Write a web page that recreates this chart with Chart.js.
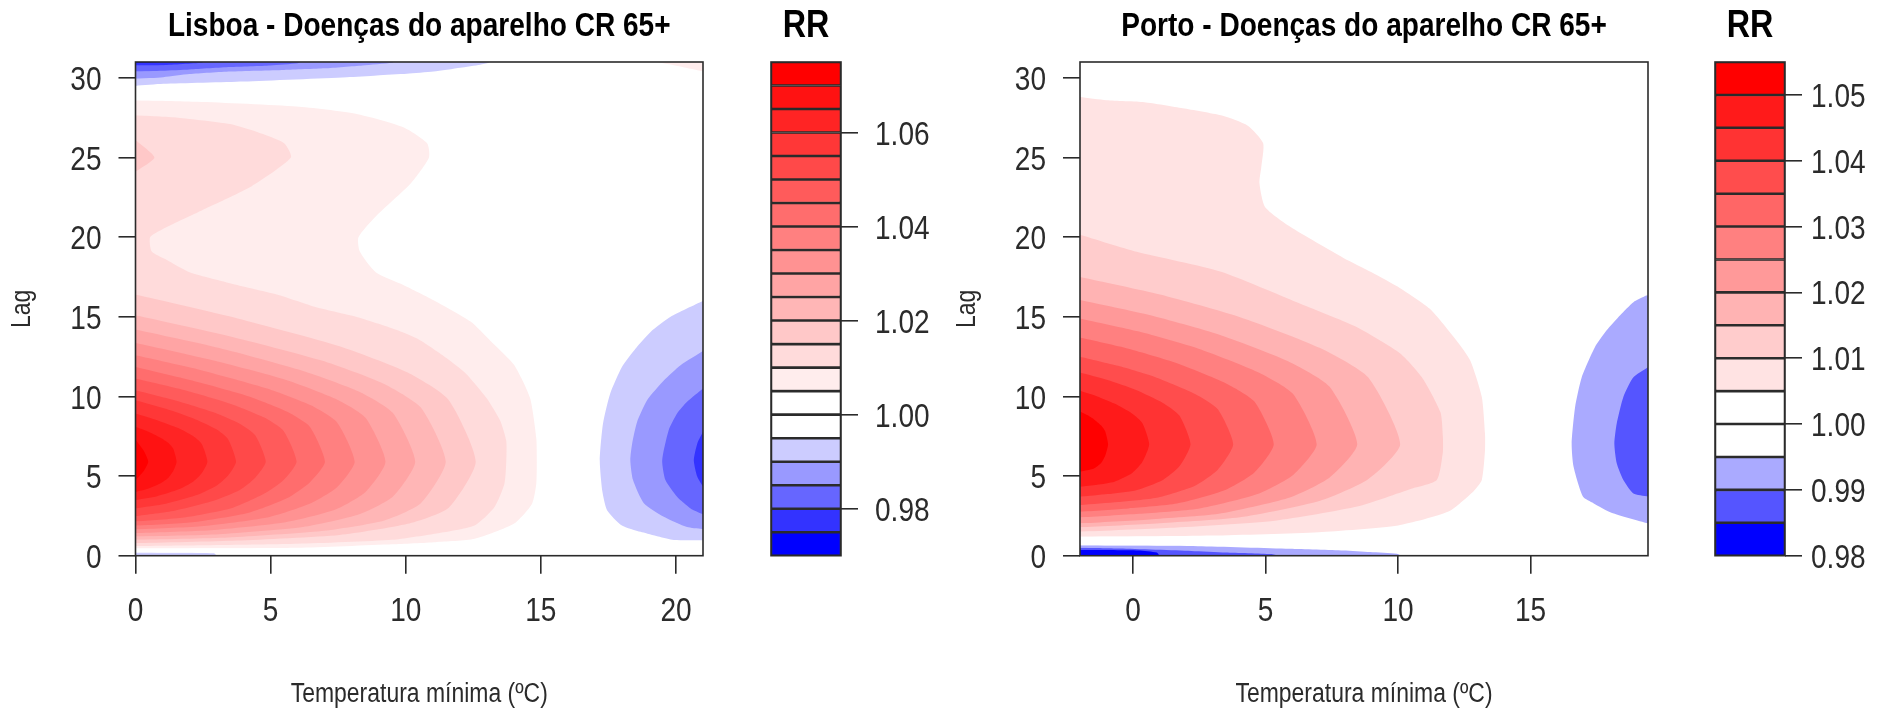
<!DOCTYPE html>
<html>
<head>
<meta charset="utf-8">
<title>RR</title>
<script src="https://cdn.jsdelivr.net/npm/chart.js@4"></script>
<style>
  html, body { margin: 0; padding: 0; background: #fff; }
  body { position: relative; width: 1878px; height: 708px; overflow: hidden; }
  canvas { position: absolute; top: 0; }
</style>
</head>
<body>
<canvas id="lisboaPlot" width="740" height="708" style="left:0"></canvas>
<canvas id="lisboaKey" width="190" height="708" style="left:761px"></canvas>
<canvas id="portoPlot" width="745" height="708" style="left:940px"></canvas>
<canvas id="portoKey" width="173" height="708" style="left:1705px"></canvas>
<script>
// tick labels
const lagTicks = [0, 5, 10, 15, 20, 25, 30];
const lisboaTempTicks = [0, 5, 10, 15, 20];
const portoTempTicks = [0, 5, 10, 15];
const lisboaKeyTicks = [0.98, 1.00, 1.02, 1.04, 1.06];
const portoKeyTicks = [0.98, 0.99, 1.00, 1.01, 1.02, 1.03, 1.04, 1.05];

// colour key cells, bottom to top
const lisboaLevels = [0.97, 0.975, 0.98, 0.985, 0.99, 0.995, 1.00, 1.005, 1.01, 1.015, 1.02, 1.025, 1.03, 1.035, 1.04, 1.045, 1.05, 1.055, 1.06, 1.065, 1.07, 1.075];
const lisboaColors = ['#0000FF', '#3333FF', '#6666FF', '#9999FF', '#CCCCFF', '#FFFFFF', '#FFFFFF', '#FFEDED', '#FFDBDB', '#FFC8C8', '#FFB6B6', '#FFA4A4', '#FF9292', '#FF8080', '#FF6D6D', '#FF5B5B', '#FF4949', '#FF3737', '#FF2424', '#FF1212', '#FF0000'];
const portoLevels = [0.98, 0.985, 0.99, 0.995, 1.00, 1.005, 1.01, 1.015, 1.02, 1.025, 1.03, 1.035, 1.04, 1.045, 1.05, 1.055];
const portoColors = ['#0000FF', '#5555FF', '#AAAAFF', '#FFFFFF', '#FFFFFF', '#FFE3E3', '#FFCCCC', '#FFB3B3', '#FF9999', '#FF8080', '#FF6666', '#FF4D4D', '#FF3333', '#FF1A1A', '#FF0000'];

// contour lines, each point is [lag, temperature]
const lis1005 = [[0.45,0],[0.5,6],[0.72,9.5],[0.85,11.1],[1.06,12.55],[2,14],[3.25,14.67],[4.5,14.83],[5.9,14.85],[7.4,14.83],[9.9,14.6],[12,14],[13.5,13.13],[14.7,12.4],[16,11.08],[17,9.91],[17.8,8.89],[19.1,8.3],[20,8.25],[21.3,8.89],[23.4,10.2],[25,10.86],[25.9,10.79],[26.9,9.91],[27.75,8.15],[28.2,5.96],[28.5,2.3],[28.6,0]];
const lis1010 = [[0.6,0],[0.75,6],[1.0,9.5],[1.38,11.08],[1.9,12.55],[3.04,13.28],[4.5,13.65],[5.9,13.72],[7.2,13.72],[8.46,13.5],[9.9,12.99],[11.4,12.25],[12.4,11.52],[13.56,10.5],[14.2,9.62],[15,8.16],[15.6,6.69],[16.4,5.23],[17,3.76],[17.8,2],[18.6,1.13],[19.1,0.6],[20,0.54],[20.5,1],[21.8,2.6],[23.2,4.3],[25,5.75],[25.9,5.5],[26.6,4.5],[27.1,3.5],[27.5,1.57],[27.65,0]];
const lis1015 = [[0.78,0],[0.95,3.78],[1.3,7.55],[2,10.07],[3,11.58],[5.9,12.59],[9.8,11.58],[11.5,10.07],[13.15,7.55],[14.9,3.78],[16.4,0]];
const lis1015b = [[24.1,0],[25,0.7],[26.1,0]];
const lis1020 = [[1,0],[1.15,3.44],[1.55,6.89],[2.2,9.18],[3.3,10.56],[5.9,11.48],[9.3,10.56],[10.8,9.18],[12.25,6.89],[13.8,3.44],[15.1,0]];
const lis1025 = [[1.2,0],[1.35,3.1],[1.8,6.2],[2.6,8.28],[3.7,9.52],[5.9,10.35],[8.97,9.52],[10.3,8.28],[11.6,6.2],[13.04,3.1],[14.2,0]];
const lis1030 = [[1.42,0],[1.6,2.78],[2.1,5.55],[2.9,7.4],[4,8.51],[5.9,9.25],[8.66,8.51],[9.85,7.4],[11.05,5.55],[12.3,2.78],[13.36,0]];
const lis1035 = [[1.65,0],[1.85,2.43],[2.4,4.87],[3.3,6.49],[4.3,7.46],[5.9,8.11],[8.37,7.46],[9.44,6.49],[10.5,4.87],[11.65,2.43],[12.58,0]];
const lis1040 = [[1.88,0],[2.1,2.1],[2.7,4.2],[3.6,5.6],[4.6,6.45],[5.9,7.01],[8.1,6.45],[9.05,5.6],[10,4.2],[11,2.1],[11.85,0]];
const lis1045 = [[2.15,0],[2.4,1.79],[3,3.58],[3.9,4.77],[4.75,5.48],[5.9,5.96],[7.83,5.48],[8.67,4.77],[9.5,3.58],[10.4,1.79],[11.12,0]];
const lis1050 = [[2.49,0],[2.83,1.45],[3.45,2.89],[4.13,3.86],[4.9,4.43],[5.9,4.82],[7.56,4.43],[8.28,3.86],[9,2.89],[9.76,1.45],[10.39,0]];
const lis1055 = [[2.97,0],[3.26,1.12],[3.79,2.23],[4.38,2.98],[5.02,3.42],[5.9,3.72],[7.33,3.42],[7.95,2.98],[8.56,2.23],[9.22,1.12],[9.76,0]];
const lis1060 = [[3.5,0],[3.74,0.8],[4.17,1.6],[4.65,2.13],[5.18,2.45],[5.9,2.66],[7.02,2.45],[7.51,2.13],[8,1.6],[8.51,0.8],[8.93,0]];
const lis1065 = [[4,0],[4.2,0.46],[4.53,0.91],[4.9,1.22],[5.33,1.4],[5.9,1.52],[6.7,1.4],[7.07,1.22],[7.42,0.91],[7.8,0.46],[8.1,0]];
const lis1070 = [[4.75,0],[5.3,0.3],[5.9,0.47],[6.6,0.3],[7.3,0]];
const lisTopPink = [[30.4,21],[30.7,20.2],[31,19.3]];
const lisRight995 = [[0.95,21],[0.98,19.92],[1.5,18.69],[1.9,18],[2.86,17.45],[4.1,17.27],[6,17.18],[8.3,17.3],[10.2,17.57],[11.85,18],[13,18.5],[14.05,19.06],[15,19.8],[16,21]];
const lisRight990 = [[1.67,21],[1.8,20.41],[2.45,19.55],[3.3,18.81],[4.75,18.41],[6,18.31],[7.06,18.38],[8.4,18.56],[9.76,18.93],[11,19.55],[11.96,20.17],[12.85,21]];
const lisRight985 = [[2.6,21],[2.97,20.54],[3.7,20.04],[4.75,19.61],[6,19.49],[7.88,19.73],[8.93,20.04],[9.66,20.41],[10.5,21]];
const lisRight980 = [[4.33,21],[4.95,20.79],[6,20.66],[7.05,20.79],[7.78,21]];
const lisTop995 = [[29.5,0],[29.63,1.03],[29.78,4],[30.05,7.82],[30.16,8.93],[30.26,10.04],[30.4,11.03],[30.64,12.02],[30.83,12.76],[30.95,13.07],[31,13.1]];
const lisTop990 = [[29.95,0],[30.05,1.03],[30.24,2],[30.4,3.5],[30.5,5.5],[30.6,7],[30.78,8.4],[30.95,9.5],[31,9.55]];
const lisTop985 = [[30.4,0],[30.45,1],[30.53,2],[30.68,3.5],[30.78,5],[30.92,6],[31,6.1]];
const lisTop980 = [[30.78,0],[30.8,1.03],[30.95,2.45],[31,2.5]];
const lisTop975 = [[30.92,0],[31,1]];
const lisBottom995 = [[0,3],[0.15,2.9],[0.2,0]];

const por1005 = [[1.19,-2],[1.27,3],[1.48,7],[1.9,10],[2.77,11.9],[4.05,12.85],[4.75,13.16],[6.6,13.28],[7.67,13.28],[9.97,13.16],[12.27,12.72],[13.5,12.21],[15.5,11.2],[16.8,10.08],[17.8,9],[18.7,7.94],[20.67,5.92],[21.9,4.98],[23.4,4.77],[24.4,4.84],[25.9,4.91],[27,4.33],[27.65,3.32],[28.1,1.88],[28.48,0.43],[28.6,-1],[28.8,-2]];
const por1010 = [[1.5,-2],[1.75,1.4],[2.2,5.36],[3.1,8.5],[4.2,10.5],[4.75,11.46],[6.5,11.69],[7.5,11.69],[9,11.6],[11.2,10.9],[12.7,10.08],[14.4,8.38],[15.9,6.2],[17.83,3.32],[19.08,0.14],[20.15,-2]];
const por1015 = [[1.78,-2],[2.04,1.02],[2.41,4.04],[3.45,7.06],[4.8,8.87],[7,10.08],[11.2,8.87],[13.04,7.06],[14.98,4.04],[16.4,1.02],[17.5,-2]];
const por1020 = [[2.03,-2],[2.28,0.62],[2.63,3.23],[3.62,5.85],[4.9,7.41],[7,8.46],[10.62,7.41],[12.21,5.85],[13.89,3.23],[15.11,0.62],[16.06,-2]];
const por1025 = [[2.4,-2],[2.63,0.23],[2.95,2.47],[3.87,4.7],[5.07,6.04],[7,6.93],[10.16,6.04],[11.54,4.7],[13,2.47],[14.07,0.23],[14.9,-2]];
const por1030 = [[2.76,-2],[2.97,-0.17],[3.27,1.66],[4.12,3.48],[5.22,4.58],[7,5.31],[9.68,4.58],[10.85,3.48],[12.09,1.66],[13,-0.17],[13.7,-2]];
const por1035 = [[3.18,-2],[3.37,-0.56],[3.64,0.89],[4.4,2.34],[5.4,3.2],[7,3.78],[9.2,3.2],[10.16,2.34],[11.18,0.89],[11.92,-0.56],[12.5,-2]];
const por1040 = [[3.7,-2],[3.87,-0.96],[4.1,0.09],[4.76,1.13],[5.61,1.75],[7,2.17],[8.8,1.75],[9.59,1.13],[10.42,0.09],[11.03,-0.96],[11.5,-2]];
const por1045 = [[4.33,-2],[4.46,-1.35],[4.65,-0.7],[5.18,-0.04],[5.88,0.35],[7,0.61],[8.34,0.35],[8.93,-0.04],[9.55,-0.7],[10,-1.35],[10.35,-2]];
const por1050 = [[5.27,-2],[5.36,-1.73],[5.48,-1.47],[5.82,-1.2],[6.27,-1.05],[7,-0.94],[7.82,-1.05],[8.18,-1.2],[8.56,-1.47],[8.83,-1.73],[9.05,-2]];
const porRight995 = [[2.02,19.45],[2.7,18.05],[3.3,17.37],[3.7,16.98],[5.6,16.62],[7.05,16.55],[9.34,16.68],[11.2,16.93],[13.1,17.43],[14.15,17.87],[15.1,18.38],[15.92,18.88],[16.35,19.38]];
const porRight990 = [[3.7,19.45],[3.9,18.88],[4.75,18.5],[5.8,18.25],[7.05,18.16],[8.3,18.25],[9.97,18.5],[11.2,18.88],[11.85,19.45]];
const porBottom995 = [[0,10.1],[0.12,9.96],[0.23,8.95],[0.33,7.94],[0.44,5.92],[0.6,2.45],[0.65,-2]];
const porBottom990 = [[0,5.5],[0.1,5.2],[0.2,3.5],[0.3,2.2],[0.45,-0.5],[0.5,-2]];
const porBottom985 = [[0,1],[0.2,0.9],[0.33,0.2],[0.36,-2]];

const sans = '"Liberation Sans", Arial, sans-serif';
const inkColor = '#2b2b2b';

// the original picture is squeezed sideways, so its text is too
const condensed = {
    id: 'condensed',
    beforeInit(chart) {
        const ctx = chart.ctx;
        const fillText = ctx.fillText.bind(ctx);
        ctx.fillText = (text, x, y) => {
            ctx.save();
            ctx.translate(x, y);
            ctx.scale(0.85, 1);
            fillText(text, 0, 0);
            ctx.restore();
        };
    }
};

// draws the box around a plot or a key
const frameBox = {
    id: 'frameBox',
    afterDraw(chart) {
        const { ctx, chartArea: a } = chart;
        ctx.save();
        ctx.strokeStyle = inkColor;
        ctx.lineWidth = 1.6;
        ctx.strokeRect(a.left, a.top, a.right - a.left, a.bottom - a.top);
        ctx.restore();
    }
};

function fixedTicks(values) {
    return scale => { scale.ticks = values.map(v => ({ value: v })); };
}

// edge is the temperature the band is filled out to
function layer(points, color, edge) {
    return {
        data: points.map(p => ({ x: p[1], y: p[0] })),
        backgroundColor: color,
        borderWidth: 0,
        pointRadius: 0,
        tension: 0.2,
        fill: { value: edge }
    };
}

function titlePlugin(text, size) {
    const lineHeight = size * 1.2;
    return {
        display: true,
        text: text,
        color: '#000',
        fullSize: false,
        font: { family: sans, weight: 'bold', size: size, lineHeight: 1.2 },
        padding: { top: 27 - lineHeight / 2, bottom: 35 - lineHeight / 2 }
    };
}

function contourChart(id, title, xMin, xMax, xTicks, axisWidth, lagPad, layers) {
    new Chart(document.getElementById(id), {
        type: 'line',
        // Chart.js paints the first dataset last
        data: { datasets: layers.slice().reverse() },
        plugins: [condensed, frameBox],
        options: {
            indexAxis: 'y',
            responsive: false,
            animation: false,
            layout: { autoPadding: false, padding: { right: 37 } },
            plugins: { legend: { display: false }, tooltip: { enabled: false }, title: titlePlugin(title, 33) },
            scales: {
                x: {
                    type: 'linear', min: xMin, max: xMax,
                    afterBuildTicks: fixedTicks(xTicks),
                    afterFit: s => { s.height = 708 - 555.7; },
                    border: { display: false },
                    grid: { drawOnChartArea: false, tickLength: 18, color: inkColor, lineWidth: 1.6 },
                    ticks: { color: inkColor, padding: 18, maxRotation: 0, autoSkip: false, font: { family: sans, size: 33 } },
                    title: { display: true, text: 'Temperatura mínima (ºC)', color: inkColor, padding: { top: 0, bottom: 0 }, font: { family: sans, size: 27, lineHeight: 1 } }
                },
                y: {
                    type: 'linear', min: 0, max: 31,
                    afterBuildTicks: fixedTicks(lagTicks),
                    afterFit: s => { s.width = axisWidth; },
                    border: { display: false },
                    grid: { drawOnChartArea: false, tickLength: 17, color: inkColor, lineWidth: 1.6 },
                    ticks: { color: inkColor, padding: 17, labelOffset: 3, autoSkip: false, font: { family: sans, size: 33 } },
                    title: { display: true, text: 'Lag', color: inkColor, padding: { top: lagPad, bottom: 0 }, font: { family: sans, size: 27, lineHeight: 1 } }
                }
            }
        }
    });
}

function keyChart(id, levels, colors, ticks, labelGap) {
    new Chart(document.getElementById(id), {
        type: 'bar',
        data: {
            labels: ['RR'],
            datasets: colors.map((c, i) => ({
                data: [[levels[i], levels[i + 1]]],
                backgroundColor: c,
                borderColor: inkColor,
                borderWidth: 1.6,
                borderSkipped: false,
                grouped: false,
                barPercentage: 1,
                categoryPercentage: 1
            }))
        },
        plugins: [condensed, frameBox],
        options: {
            responsive: false,
            animation: false,
            layout: { autoPadding: false, padding: { left: 10, bottom: 708 - 555.7 } },
            plugins: { legend: { display: false }, tooltip: { enabled: false }, title: titlePlugin('RR', 38) },
            scales: {
                x: { display: false },
                y: {
                    position: 'right',
                    min: levels[0], max: levels[levels.length - 1],
                    afterBuildTicks: fixedTicks(ticks),
                    afterFit: s => { s.width = s.chart.width - 80; },
                    border: { display: false },
                    grid: { drawOnChartArea: false, tickLength: 17, color: inkColor, lineWidth: 1.6 },
                    ticks: { color: inkColor, padding: labelGap, labelOffset: 3, autoSkip: false, callback: v => v.toFixed(2), font: { family: sans, size: 33 } }
                }
            }
        }
    });
}

contourChart('lisboaPlot', 'Lisboa - Doenças do aparelho CR 65+', 0, 21, lisboaTempTicks, 135.5, 9.5, [
    layer(lisBottom995, '#CCCCFF', 0),
    layer(lisRight995, '#CCCCFF', 21),
    layer(lisRight990, '#9999FF', 21),
    layer(lisRight985, '#6666FF', 21),
    layer(lisRight980, '#3333FF', 21),
    layer(lisTop995, '#CCCCFF', 0),
    layer(lisTop990, '#9999FF', 0),
    layer(lisTop985, '#6666FF', 0),
    layer(lisTop980, '#3333FF', 0),
    layer(lisTop975, '#0000FF', 0),
    layer(lisTopPink, '#FFEDED', 21),
    layer(lis1005, '#FFEDED', 0),
    layer(lis1010, '#FFDBDB', 0),
    layer(lis1015, '#FFC8C8', 0),
    layer(lis1015b, '#FFC8C8', 0),
    layer(lis1020, '#FFB6B6', 0),
    layer(lis1025, '#FFA4A4', 0),
    layer(lis1030, '#FF9292', 0),
    layer(lis1035, '#FF8080', 0),
    layer(lis1040, '#FF6D6D', 0),
    layer(lis1045, '#FF5B5B', 0),
    layer(lis1050, '#FF4949', 0),
    layer(lis1055, '#FF3737', 0),
    layer(lis1060, '#FF2424', 0),
    layer(lis1065, '#FF1212', 0),
    layer(lis1070, '#FF0000', 0)
]);

contourChart('portoPlot', 'Porto - Doenças do aparelho CR 65+', -2, 19.43, portoTempTicks, 140, 13.6, [
    layer(porRight995, '#AAAAFF', 19.43),
    layer(porRight990, '#5555FF', 19.43),
    layer(porBottom995, '#AAAAFF', -2),
    layer(porBottom990, '#5555FF', -2),
    layer(porBottom985, '#0000FF', -2),
    layer(por1005, '#FFE3E3', -2),
    layer(por1010, '#FFCCCC', -2),
    layer(por1015, '#FFB3B3', -2),
    layer(por1020, '#FF9999', -2),
    layer(por1025, '#FF8080', -2),
    layer(por1030, '#FF6666', -2),
    layer(por1035, '#FF4D4D', -2),
    layer(por1040, '#FF3333', -2),
    layer(por1045, '#FF1A1A', -2),
    layer(por1050, '#FF0000', -2)
]);

keyChart('lisboaKey', lisboaLevels, lisboaColors, lisboaKeyTicks, 17);
keyChart('portoKey', portoLevels, portoColors, portoKeyTicks, 9);
</script>
</body>
</html>
